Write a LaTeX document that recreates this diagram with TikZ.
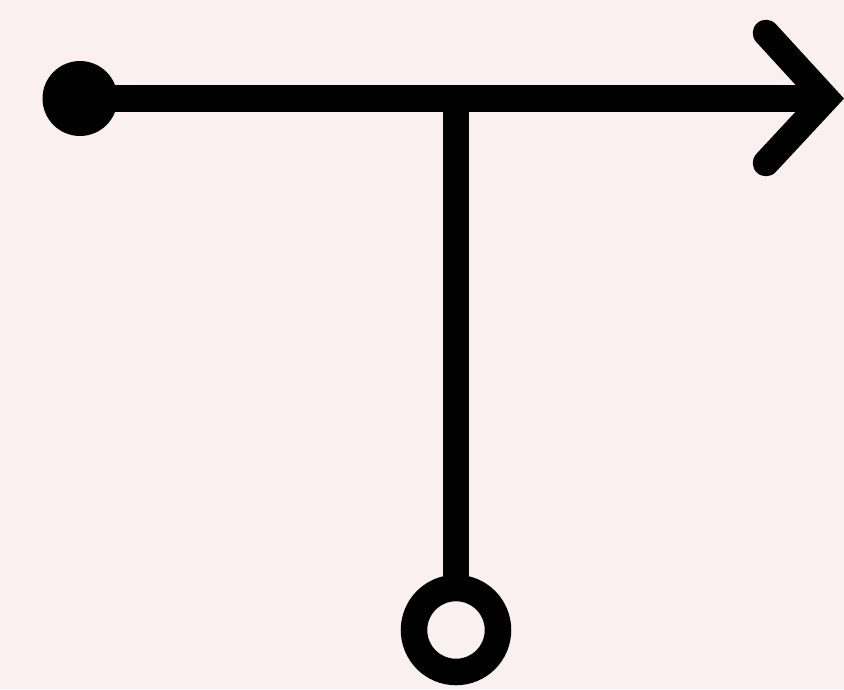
\documentclass[tikz,border=0pt]{standalone}
\definecolor{bgpink}{RGB}{250,240,241}
\tikzset{
  wire/.style={line width=26.5pt, black},
  dotfilled/.style={circle, fill=black, inner sep=0pt, outer sep=0pt, minimum size=75pt},
  ringnode/.style={circle, draw=black, line width=26.5pt, inner sep=0pt, outer sep=0pt, minimum size=84pt},
}
\begin{document}
\begin{tikzpicture}[x=1pt,y=-1pt]
  \fill[bgpink] (0,0) rectangle (844,689);
  \useasboundingbox (0,0) rectangle (844,689);
  \node[dotfilled] (start) at (80,98.5) {};
  \coordinate (junction) at (456,98.5);
  \coordinate (tip) at (826,98.5);
  \coordinate (armtop) at (766,33);
  \coordinate (armbot) at (766,163);
  \node[ringnode] (ring) at (456,630) {};
  \draw[wire] (start.center) -- (tip);
  \draw[wire] (junction) -- (ring.north);
  \draw[wire, line cap=round, line join=miter] (armtop) -- (tip) -- (armbot);
\end{tikzpicture}
\end{document}
